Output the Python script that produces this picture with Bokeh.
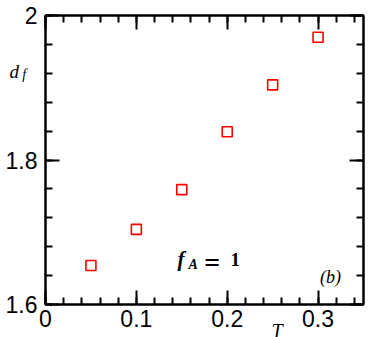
from bokeh.plotting import figure
from bokeh.models import LinearAxis, FixedTicker, Label, Range1d
from bokeh.embed import file_html
from bokeh.resources import INLINE

T_vals = [0.05, 0.10, 0.15, 0.20, 0.25, 0.30]
df_vals = [1.654, 1.704, 1.759, 1.839, 1.904, 1.970]

x_major = [0, 0.1, 0.2, 0.3]
x_minor = [round(0.02 * k, 2) for k in range(0, 18)]
y_major = [1.6, 1.8, 2.0]
y_minor = [round(1.6 + 0.04 * k, 2) for k in range(0, 11)]
x_labels = {0: "0", 0.1: "0.1", 0.2: "0.2", 0.3: "0.3"}
y_labels = {1.6: "1.6", 1.8: "1.8", 2.0: "2"}

p = figure(frame_width=318, frame_height=289, output_backend="svg", toolbar_location=None,
           x_range=Range1d(0, 0.35), y_range=Range1d(1.6, 2.0),
           x_axis_location=None, y_axis_location=None,
           min_border_left=45, min_border_top=15, min_border_right=3, min_border_bottom=33)
p.grid.visible = False
p.outline_line_color = "black"
p.outline_line_width = 2
p.background_fill_color = "white"
p.border_fill_color = "white"

def make_axis(ticks, minor, labels, show):
    ax = LinearAxis(ticker=FixedTicker(ticks=ticks, minor_ticks=minor))
    ax.axis_line_width = 2
    ax.major_tick_in = 14
    ax.major_tick_out = 0
    ax.minor_tick_in = 7
    ax.minor_tick_out = 0
    ax.major_tick_line_width = 2
    ax.minor_tick_line_width = 2
    ax.major_label_text_font = "Liberation Sans"
    ax.major_label_text_color = "black"
    if show:
        ax.major_label_overrides = labels
        ax.major_label_text_font_size = "23px"
    else:
        ax.major_label_overrides = {k: "" for k in labels}
        ax.major_label_text_font_size = "1px"
        ax.major_label_standoff = 0
    return ax

bottom = make_axis(x_major, x_minor, x_labels, True)
bottom.major_label_standoff = 5
left = make_axis(y_major, y_minor, y_labels, True)
left.major_label_standoff = 8
top = make_axis(x_major, x_minor, x_labels, False)
right = make_axis(y_major, y_minor, y_labels, False)
p.add_layout(bottom, "below")
p.add_layout(left, "left")
p.add_layout(top, "above")
p.add_layout(right, "right")

p.scatter(T_vals, df_vals, marker="square", size=10, fill_color=None,
          line_color="red", line_width=1.6)

serif = "Liberation Serif"
def lab(x, y, t, size, style="italic", align="left", place="center"):
    l = Label(x=x, y=y, text=t, text_font=serif, text_font_size=size,
              text_font_style=style, text_align=align, text_baseline="alphabetic",
              text_color="black")
    if place == "center":
        p.add_layout(l)
    else:
        p.add_layout(l, place)

# axis symbols outside the frame (side panel so they are not clipped)
lab(-0.0395, 1.9225, "d", "19px", place="right")
lab(-0.0255, 1.9183, "f", "14px", place="right")
lab(0.2487, 1.5640, "T", "20px", place="right")
# f_A = 1
lab(0.1453, 1.6623, "f", "21px", "bold italic")
lab(0.1574, 1.6554, "A", "14px", "bold italic")
lab(0.1835, 1.6588, "=", "28px", "bold", align="center")
lab(0.2036, 1.6623, "1", "19px", "bold")
# (b)
lab(0.3137, 1.6374, "(b)", "18px", align="center")

open("out.html", "w").write(file_html(p, INLINE))
